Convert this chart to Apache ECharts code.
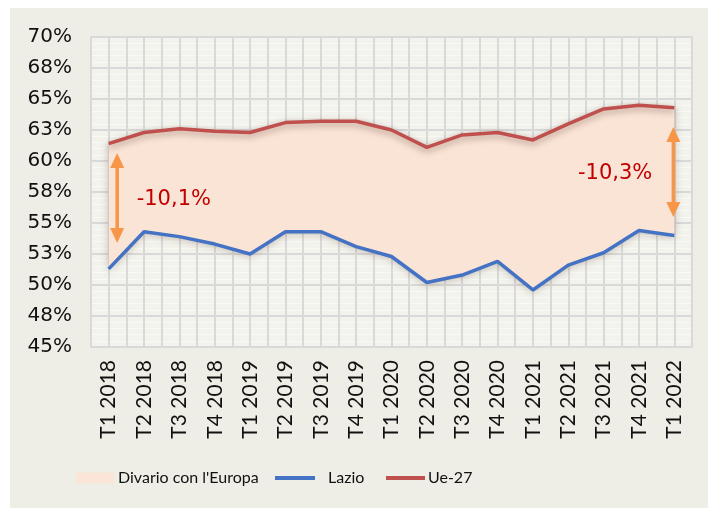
<!DOCTYPE html>
<html>
<head>
<meta charset="utf-8">
<script src="https://cdn.jsdelivr.net/npm/echarts@6/dist/echarts.min.js"></script>
<style>
  html, body { margin: 0; padding: 0; background: #fff; }
  #wrap { position: relative; width: 708px; height: 508px; }
  #bg { position: absolute; left: 10px; top: 8px; right: 0; bottom: 0; background: #efeee6; }
  #main { position: absolute; left: 0; top: 0; width: 708px; height: 508px; }
</style>
</head>
<body>
<div id="wrap">
  <div id="bg"></div>
  <div id="main"></div>
</div>
<script>
// trimestri
const quarters = ['T1 2018', 'T2 2018', 'T3 2018', 'T4 2018', 'T1 2019', 'T2 2019', 'T3 2019', 'T4 2019',
  'T1 2020', 'T2 2020', 'T3 2020', 'T4 2020', 'T1 2021', 'T2 2021', 'T3 2021', 'T4 2021', 'T1 2022']
// tasso (%) Lazio e Ue-27
const lazio = [51.3, 54.3, 53.9, 53.3, 52.5, 54.3, 54.3, 53.1, 52.3, 50.2, 50.8, 51.9, 49.6, 51.6, 52.6, 54.4, 54.0]
const ue27 = [61.4, 62.3, 62.6, 62.4, 62.3, 63.1, 63.2, 63.2, 62.5, 61.1, 62.1, 62.3, 61.7, 63.0, 64.2, 64.5, 64.3]
// asse y
const yMin = 45
const yMax = 70
const yStep = 2.5
// etichette del divario
const gapLabels = ['-10,1%', '-10,3%']

const gap = ue27.map((v, i) => +(v - lazio[i]).toFixed(1))

const chart = echarts.init(document.getElementById('main'))
const font = 'DejaVu Sans'
const legendText = { fontFamily: 'Lato', fontSize: 16, color: '#111' }

const option = {
  backgroundColor: 'transparent',
  animation: false,
  grid: {
    left: 91, right: 16, top: 37, bottom: 161,
    show: true, backgroundColor: '#f3f3ed', borderWidth: 0
  },
  legend: [
    {
      data: ["Divario con l'Europa"], left: 76, top: 470, padding: 0, icon: 'rect',
      itemWidth: 38, itemHeight: 11,
      textStyle: { ...legendText, padding: [0, 0, 0, -1] }
    },
    {
      data: ['Lazio'], left: 275, top: 470, padding: 0, icon: 'rect', itemWidth: 40, itemHeight: 4,
      textStyle: { ...legendText, padding: [0, 0, 0, 8] }
    },
    {
      data: ['Ue-27'], left: 386, top: 470, padding: 0, icon: 'rect', itemWidth: 39, itemHeight: 4,
      textStyle: { ...legendText, padding: [0, 0, 0, -2] }
    }
  ],
  xAxis: [
    {
      type: 'category',
      data: quarters,
      boundaryGap: true,
      axisLine: { lineStyle: { color: '#d9d9d9', width: 2 } },
      axisTick: { show: false },
      splitLine: { show: false },
      axisLabel: { rotate: 90, margin: 13, fontFamily: 'Lato', fontSize: 21, color: '#111', interval: 0 }
    },
    {
      // griglia verticale ogni mezzo trimestre
      type: 'value', min: 0, max: quarters.length * 2, interval: 1,
      position: 'top',
      axisLine: { show: false }, axisTick: { show: false }, axisLabel: { show: false },
      splitLine: { show: true, lineStyle: { color: '#d9d9d9', width: 2 } }
    }
  ],
  yAxis: {
    type: 'value',
    min: yMin, max: yMax, interval: yStep,
    axisLine: { show: true, lineStyle: { color: '#d9d9d9', width: 2 } },
    axisTick: { show: false },
    axisLabel: {
      margin: 19, fontFamily: font, fontSize: 20, color: '#111',
      formatter: v => Math.round(v) + '%'
    },
    splitLine: { lineStyle: { color: '#d9d9d9', width: 2 } },
    minorTick: { show: false, splitNumber: 5 },
    minorSplitLine: { show: true, lineStyle: { color: '#fafaf5', width: 1 } }
  },
  series: [
    {
      name: 'base',
      type: 'line',
      data: lazio,
      stack: 'gap',
      symbol: 'none',
      lineStyle: { width: 0, opacity: 0 },
      silent: true
    },
    {
      name: "Divario con l'Europa",
      type: 'line',
      data: gap,
      stack: 'gap',
      symbol: 'none',
      color: '#fbe5d6',
      lineStyle: { width: 0, opacity: 0 },
      areaStyle: {
        color: '#fae4d6', opacity: 1,
        shadowColor: 'rgba(90,60,40,0.35)', shadowBlur: 8, shadowOffsetY: 2
      }
    },
    {
      name: 'Lazio',
      type: 'line',
      data: lazio,
      symbol: 'none',
      color: '#4472c4',
      lineStyle: { width: 3.5, color: '#4472c4' },
      z: 4
    },
    {
      name: 'Ue-27',
      type: 'line',
      data: ue27,
      symbol: 'none',
      color: '#c0504d',
      lineStyle: {
        width: 3.5, color: '#c0504d',
        shadowColor: 'rgba(60,30,20,0.35)', shadowBlur: 6, shadowOffsetY: 3
      },
      z: 4
    }
  ]
}

chart.setOption(option)

// frecce e etichette del divario
function arrow(idx, top, bottom, dx) {
  const p1 = chart.convertToPixel({ xAxisIndex: 0, yAxisIndex: 0 }, [idx, top])
  const p2 = chart.convertToPixel({ xAxisIndex: 0, yAxisIndex: 0 }, [idx, bottom])
  const x = p1[0] + dx
  const orange = '#f79646'
  return [
    { type: 'line', shape: { x1: x, y1: p1[1] + 10, x2: x, y2: p2[1] - 10 }, style: { stroke: orange, lineWidth: 3.5 }, z: 10 },
    { type: 'polygon', shape: { points: [[x, p1[1]], [x - 7, p1[1] + 15], [x + 7, p1[1] + 15]] }, style: { fill: orange }, z: 10 },
    { type: 'polygon', shape: { points: [[x, p2[1]], [x - 7, p2[1] - 15], [x + 7, p2[1] - 15]] }, style: { fill: orange }, z: 10 }
  ]
}
function label(idx, val, dx, text, align) {
  const p = chart.convertToPixel({ xAxisIndex: 0, yAxisIndex: 0 }, [idx, val])
  return {
    type: 'text', x: p[0] + dx, y: p[1], z: 10,
    style: { text: text, fill: '#c00000', font: '21px "DejaVu Sans"', align: align, verticalAlign: 'middle' }
  }
}

const last = quarters.length - 1
chart.setOption({
  graphic: [
    ...arrow(0, 60.65, 53.39, 8.5),
    ...arrow(last, 62.74, 55.48, -1),
    label(0, 56.9, 28, gapLabels[0], 'left'),
    label(last, 58.98, -22, gapLabels[1], 'right')
  ]
})
</script>
</body>
</html>
